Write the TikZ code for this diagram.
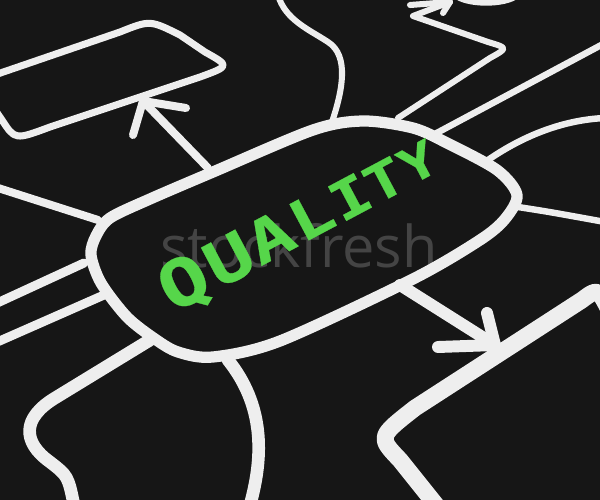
\documentclass[tikz,border=0pt]{standalone}
\usepackage{fontspec}
\usetikzlibrary{positioning}
\newfontfamily\qualityfont{DejaVu Sans Mono}[BoldFeatures={FakeBold=0.4}]
\newfontfamily\markfont{Open Sans}
\definecolor{board}{RGB}{22,22,22}
\definecolor{chalk}{RGB}{238,238,238}
\definecolor{chalkgreen}{RGB}{86,214,74}
\definecolor{markgray}{RGB}{68,68,68}

\begin{document}
\begin{tikzpicture}[x=0.025cm, y=-0.025cm,
    line/.style={draw=chalk, line cap=round, line join=round},
    letter/.style={text=chalkgreen, inner sep=0pt, font=\qualityfont\bfseries\fontsize{42}{42}\selectfont}]
        \useasboundingbox (0,0) rectangle (600,500);
        \fill[board] (0,0) rectangle (600,500);

        % faint watermark
        \node[text=markgray, anchor=base, inner sep=0pt, font=\markfont\fontsize{41}{41}\selectfont] (mark) at (299,267) {stockfresh};

        % central box
        \draw[line, line width=8pt] plot[smooth cycle, tension=0.5] coordinates {
            (96,236) (110,218) (150,199) (213,172) (313,130) (363,121) (413,128)
            (447,143) (497,170) (517,195) (505,219) (480,240) (413,279) (280,341)
            (213,357) (178,352) (155,339) (127,317) (101,283) (91,255)};

        % named ends
        \coordinate (upfoot) at (208,168);
        \coordinate (uptip) at (143,101);
        \coordinate (downfoot) at (400,285);
        \coordinate (downtip) at (495,345);
        \coordinate (zigfoot) at (398,118);
        \coordinate (zigtip) at (450,2);

        % top left box
        \draw[line, line width=5pt] (-20,80) -- (120,32) .. controls (150,20) .. (180,35)
            -- (205,52) .. controls (230,66) .. (200,77) -- (50,127)
            .. controls (15,140) .. (2,120) -- (-20,88);

        % arrow up
        \draw[line, line width=5.7pt] (upfoot) -- (uptip);
        \draw[line, line width=5.7pt] (133,135) -- (uptip) -- (186,108);

        % lines on the left
        \draw[line, line width=5.7pt] (-5,187) -- (98,220);
        \draw[line, line width=6.4pt] (-5,304) -- (84,263);
        \draw[line, line width=6.4pt] (-5,343) -- (104,295);
        \draw[line, line width=9pt] (150,340) -- (55,398) .. controls (22,418) and (22,442) .. (50,462)
            .. controls (68,476) .. (74,505);

        % line at the bottom
        \draw[line, line width=9pt] (228,360) .. controls (264,405) and (264,455) .. (250,505);

        % lines at the top
        \draw[line, line width=4.3pt] (278,-5) .. controls (285,20) and (310,30) .. (328,42)
            .. controls (350,56) and (342,92) .. (332,122);
        \draw[line, line width=4.3pt] (zigfoot) -- (490,58) .. controls (508,48) .. (488,42)
            -- (413,16) -- (zigtip);
        \draw[line, line width=4.3pt] (410,5) -- (zigtip) -- (443,13);
        \draw[line, line width=4pt] (455,-5) .. controls (465,5) and (505,6) .. (518,-5);

        % lines on the right
        \draw[line, line width=4.6pt] (433,135) -- (605,43);
        \draw[line, line width=4.6pt] (488,160) .. controls (520,138) and (560,120) .. (605,118);
        \draw[line, line width=4.6pt] (518,207) .. controls (550,212) .. (605,222);

        % bottom right box
        \draw[line, line width=12pt] (610,312) .. controls (598,288) .. (582,300)
            -- (415,408) .. controls (378,437) .. (400,460) -- (440,510);

        % arrow down
        \draw[line, line width=8.5pt] (downfoot) -- (downtip);
        \draw[line, line width=8.5pt] (438,347) -- (downtip) -- (487,313);

        % the word
        \foreach \ch/\x/\y/\s [count=\i] in {Q/185/285/1.1, U/229/259/1.05, A/270/237/1.0,
                L/311/216/0.95, I/350/197/0.9, T/384/180/0.86, Y/418/162/0.82}
            \node[letter, rotate=28, xscale=1.25, scale=\s] (q\i) at (\x,\y) {\ch};
\end{tikzpicture}
\end{document}
